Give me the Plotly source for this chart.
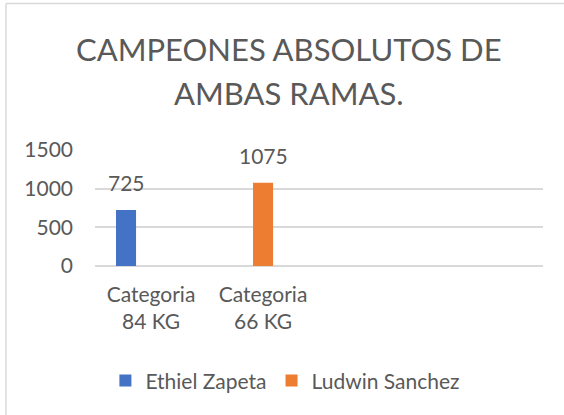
import plotly.graph_objects as go

# ---- data ----
categories = ["Categoria<br>84 KG", "Categoria<br>66 KG"]
series_names = ["Ethiel Zapeta", "Ludwin Sanchez"]
ethiel = [725, None]
ludwin = [None, 1075]
y_ticks = [0, 500, 1000, 1500]
title_lines = ["CAMPEONES ABSOLUTOS DE", "AMBAS RAMAS."]

FONT = "Lato"
GRAY = "#595959"
colors = ["#4472C4", "#ED7D31"]
offsets = [-0.3125, -0.089]
BW = 0.179

fig = go.Figure()
for name, vals, col, off in zip(series_names, [ethiel, ludwin], colors, offsets):
    fig.add_trace(go.Bar(
        x=categories, y=vals, name=name,
        marker=dict(color=col, line=dict(width=0)),
        width=BW, offset=off,
    ))
    for cat, v in zip(categories, vals):
        if v is None:
            continue
        fig.add_annotation(
            x=cat, y=v, xref="x", yref="y", text=str(v), showarrow=False,
            xanchor="center", yanchor="bottom",
            xshift=(off + BW / 2) * 112, yshift=13,
            font=dict(family=FONT, size=21, color=GRAY),
        )

for i, line in enumerate(title_lines):
    fig.add_annotation(
        x=0.433, y=[1.872, 1.49][i], xref="paper", yref="paper",
        text=line, showarrow=False, xanchor="center", yanchor="middle",
        font=dict(family=FONT, size=31, color=GRAY),
    )

# chart-area border (left and top edges visible in the crop)
border = dict(color="#d9d9d9", width=1.5)
fig.add_shape(type="line", xref="paper", yref="paper",
              x0=-0.1987, x1=-0.1987, y0=-3, y1=2.262, line=border, layer="below")
fig.add_shape(type="line", xref="paper", yref="paper",
              x0=-0.1987, x1=1.2, y0=2.262, y1=2.262, line=border, layer="below")

fig.update_layout(
    width=564, height=415,
    margin=dict(l=95, r=21, t=150, b=149, pad=0),
    paper_bgcolor="white", plot_bgcolor="white",
    barmode="overlay",
    showlegend=True,
    legend=dict(orientation="h", x=0.425, xanchor="center", y=-0.99, yanchor="middle",
                font=dict(family=FONT, size=21, color=GRAY), itemwidth=30,
                bgcolor="rgba(0,0,0,0)"),
    font=dict(family=FONT, color=GRAY),
    xaxis=dict(
        type="category", range=[-0.5, 3.5],
        showgrid=False, showline=False, zeroline=False,
        ticks="", tickfont=dict(family=FONT, size=21, color=GRAY),
        ticklabelstandoff=14,
    ),
    yaxis=dict(
        range=[0, 1500], tickvals=y_ticks,
        showgrid=True, gridcolor="#d9d9d9", gridwidth=2,
        zeroline=True, zerolinecolor="#d9d9d9", zerolinewidth=2,
        showline=False, ticks="",
        tickfont=dict(family=FONT, size=21, color=GRAY),
        ticklabelstandoff=21,
    ),
)

fig.write_html(
    "out.html",
    config={"displayModeBar": False},
    post_script="document.body.style.margin='0';document.body.style.overflow='hidden';",
)
